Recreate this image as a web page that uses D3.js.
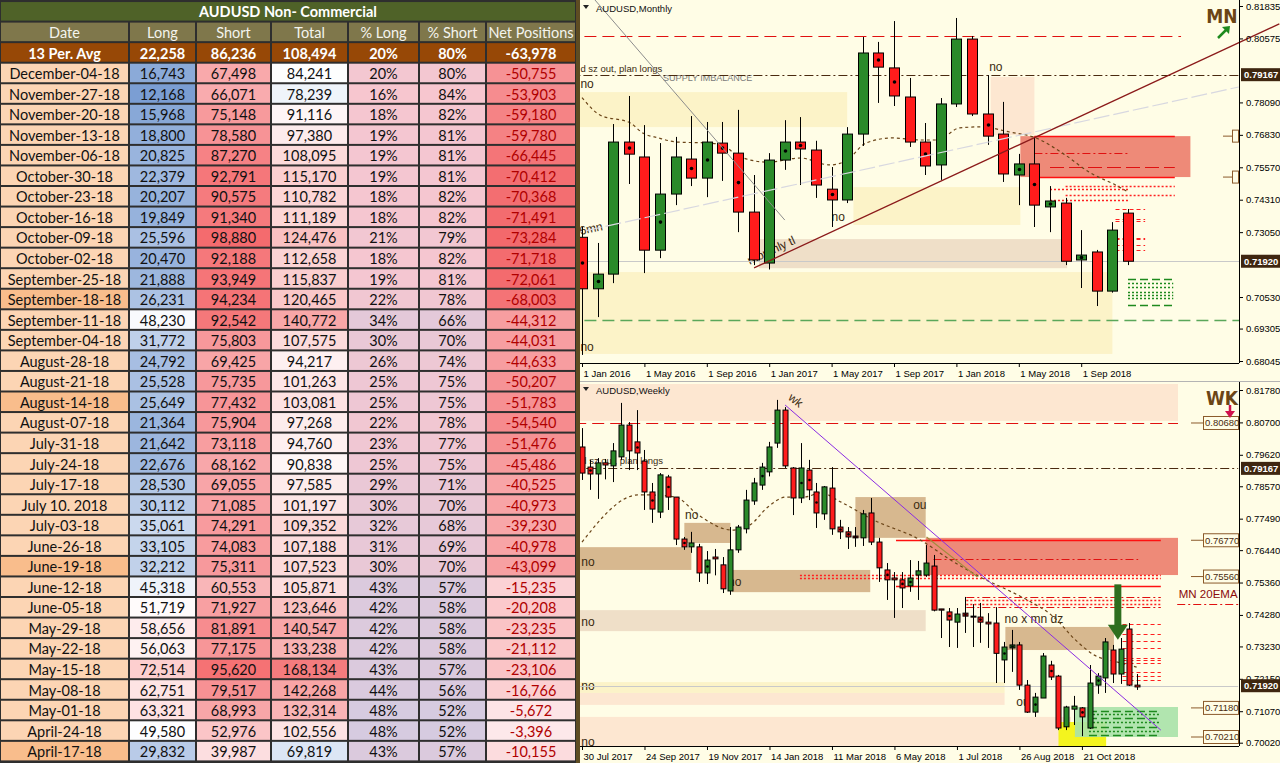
<!DOCTYPE html>
<html>
<head>
<meta charset="utf-8">
<title>AUDUSD Non-Commercial and charts</title>
<script src="https://cdn.jsdelivr.net/npm/d3@7"></script>
<style>
  body { margin: 0; background: #fff; }
  svg { display: block; }
</style>
</head>
<body>
<div id="chart-area"></div>
<script>
// ---------- COT table ----------
const tableTitle = 'AUDUSD Non- Commercial'
const headers = ['Date', 'Long', 'Short', 'Total', '% Long', '% Short', 'Net Positions']
const avgLabel = '13 Per. Avg'
const avgValues = [22258, 86236, 108494, 20, 80, -63978]

const dates = ['December-04-18', 'November-27-18', 'November-20-18', 'November-13-18', 'November-06-18',
  'October-30-18', 'October-23-18', 'October-16-18', 'October-09-18', 'October-02-18',
  'September-25-18', 'September-18-18', 'September-11-18', 'September-04-18', 'August-28-18',
  'August-21-18', 'August-14-18', 'August-07-18', 'July-31-18', 'July-24-18',
  'July-17-18', 'July 10. 2018', 'July-03-18', 'June-26-18', 'June-19-18',
  'June-12-18', 'June-05-18', 'May-29-18', 'May-22-18', 'May-15-18',
  'May-08-18', 'May-01-18', 'April-24-18', 'April-17-18']
const longs = [16743, 12168, 15968, 18800, 20825, 22379, 20207, 19849, 25596, 20470,
  21888, 26231, 48230, 31772, 24792, 25528, 25649, 21364, 21642, 22676,
  28530, 30112, 35061, 33105, 32212, 45318, 51719, 58656, 56063, 72514,
  62751, 63321, 49580, 29832]
const shorts = [67498, 66071, 75148, 78580, 87270, 92791, 90575, 91340, 98880, 92188,
  93949, 94234, 92542, 75803, 69425, 75735, 77432, 75904, 73118, 68162,
  69055, 71085, 74291, 74083, 75311, 60553, 71927, 81891, 77175, 95620,
  79517, 68993, 52976, 39987]
const totals = [84241, 78239, 91116, 97380, 108095, 115170, 110782, 111189, 124476, 112658,
  115837, 120465, 140772, 107575, 94217, 101263, 103081, 97268, 94760, 90838,
  97585, 101197, 109352, 107188, 107523, 105871, 123646, 140547, 133238, 168134,
  142268, 132314, 102556, 69819]
const pctLong = [20, 16, 18, 19, 19, 19, 18, 18, 21, 18, 19, 22, 34, 30, 26, 25, 25, 22, 23, 25,
  29, 30, 32, 31, 30, 43, 42, 42, 42, 43, 44, 48, 48, 43]
const pctShort = [80, 84, 82, 81, 81, 81, 82, 82, 79, 82, 81, 78, 66, 70, 74, 75, 75, 78, 77, 75,
  71, 70, 68, 69, 70, 57, 58, 58, 58, 57, 56, 52, 52, 57]
const nets = [-50755, -53903, -59180, -59780, -66445, -70412, -70368, -71491, -73284, -71718,
  -72061, -68003, -44312, -44031, -44633, -50207, -51783, -54540, -51476, -45486,
  -40525, -40973, -39230, -40978, -43099, -15235, -20208, -23235, -21112, -23106,
  -16766, -5672, -3396, -10155]
const highlightDates = ['September-18-18', 'August-14-18', 'June-19-18', 'April-17-18']

// ---------- monthly candles, Jan 2016 .. Dec 2018 ----------
const mOpen = [.7285, .7085, .7142, .7655, .7597, .7235, .7453, .7589, .7515, .7651, .7612, .7383,
  .7185, .7585, .7655, .7624, .7472, .7430, .7686, .8001, .7943, .7830, .7655, .7566,
  .7803, .8055, .7764, .7686, .7527, .7570, .7403, .7418, .7197, .7228, .7076, .7379]
const mHigh = [.7325, .7263, .7725, .7834, .7721, .7651, .7675, .7756, .7733, .7733, .7780, .7527,
  .7612, .7740, .7752, .7660, .7558, .7713, .8063, .8044, .8125, .7904, .7729, .7826,
  .8137, .8067, .7915, .7811, .7609, .7675, .7484, .7438, .7313, .7236, .7344, .7395]
const mLow = [.6828, .6975, .7107, .7492, .7146, .7204, .7410, .7484, .7441, .7504, .7305, .7177,
  .7160, .7547, .7488, .7438, .7325, .7418, .7640, .7807, .7795, .7636, .7527, .7508,
  .7791, .7756, .7644, .7500, .7410, .7325, .7305, .7177, .7088, .7018, .7070, .7177]
const mClose = [.7085, .7142, .7655, .7608, .7235, .7453, .7597, .7515, .7655, .7612, .7383, .7197,
  .7585, .7655, .7628, .7488, .7430, .7686, .8001, .7946, .7834, .7655, .7562, .7803,
  .8055, .7764, .7678, .7531, .7570, .7410, .7426, .7192, .7216, .7076, .7313, .7192]
const mDots = [0, 1, 3, 5, 7, 8, 9, 10, 13, 14, 16, 19, 20, 22, 26, 28, 29, 30, 32]
const mMa = [[0, .7828], [1.15, .7760], [3.1, .7729], [3.9, .7690], [4.9, .7671], [6.1, .7655],
  [8.2, .7651], [9, .7644], [9.9, .7605], [10.8, .7585], [11.9, .7577], [14, .7593],
  [15.9, .7566], [17, .7585], [18.2, .7651], [19.9, .7671], [21.7, .7663], [22.8, .7663],
  [24.2, .7710], [25.6, .7714], [27.4, .7694], [29.1, .7671], [30.8, .7612], [32.6, .7535],
  [34.2, .7488], [35, .7461]]
const mTickIdx = [0, 4, 8, 12, 16, 20, 24, 28, 32]
const mTickLabels = ['1 Jan 2016', '1 May 2016', '1 Sep 2016', '1 Jan 2017', '1 May 2017',
  '1 Sep 2017', '1 Jan 2018', '1 May 2018', '1 Sep 2018']
const mPriceTicks = [0.81835, 0.80575, 0.78090, 0.76830, 0.75570, 0.74310, 0.73050, 0.70530, 0.69305, 0.68045]
const mDarkBoxes = [0.79167, 0.71920]
const mMarkers = [0.7678, 0.7519]

// ---------- weekly candles, 30 Jul 2017 .. Dec 2018 ----------
const wOpen = [.7988, .7921, .7898, .7935, .7925, .7955, .8061, .8005, .7941, .7838,
  .7771, .7888, .7821, .7681, .7655, .7655, .7568, .7621, .7595, .7508,
  .7645, .7715, .7808, .7861, .7905, .8001, .8111, .7918, .7818, .7911,
  .7838, .7765, .7851, .7721, .7705, .7691, .7685, .7768, .7671, .7578,
  .7551, .7545, .7525, .7561, .7561, .7591, .7448, .7438, .7404, .7434,
  .7424, .7421, .7404, .7401, .7278, .7318, .7328, .7194, .7104, .7151,
  .7261, .7224, .7055, .7114, .7118, .7051, .7194, .7218, .7311, .7231,
  .7381, .7194]
const wHigh = [.8051, .7945, .7951, .7948, .8001, .8135, .8071, .8111, .7978, .7868,
  .7901, .7895, .7821, .7688, .7705, .7665, .7641, .7648, .7621, .7721,
  .7728, .7845, .7885, .7935, .8005, .8145, .8121, .7921, .8001, .7945,
  .7868, .7858, .7921, .7745, .7721, .7721, .7778, .7818, .7685, .7601,
  .7571, .7571, .7611, .7608, .7661, .7628, .7448, .7451, .7451, .7488,
  .7464, .7468, .7434, .7454, .7338, .7378, .7338, .7211, .7168, .7301,
  .7275, .7228, .7125, .7158, .7121, .7261, .7234, .7351, .7328, .7351,
  .7401, .7231]
const wLow = [.7878, .7845, .7815, .7880, .7871, .7945, .7911, .7911, .7778, .7735,
  .7751, .7778, .7661, .7645, .7635, .7538, .7531, .7560, .7501, .7495,
  .7635, .7700, .7795, .7845, .7890, .7985, .7918, .7761, .7801, .7811,
  .7718, .7745, .7695, .7681, .7648, .7655, .7658, .7661, .7538, .7478,
  .7418, .7451, .7505, .7478, .7555, .7440, .7351, .7321, .7318, .7368,
  .7321, .7335, .7318, .7201, .7201, .7238, .7178, .7101, .7088, .7151,
  .7211, .7044, .7044, .7061, .7024, .7048, .7165, .7168, .7201, .7198,
  .7191, .7178]
const wClose = [.7901, .7898, .7935, .7928, .7975, .8061, .7975, .7968, .7838, .7781,
  .7895, .7821, .7681, .7655, .7668, .7568, .7611, .7615, .7515, .7645,
  .7721, .7811, .7868, .7921, .7988, .8111, .7925, .7818, .7918, .7845,
  .7768, .7855, .7715, .7705, .7688, .7685, .7765, .7671, .7585, .7545,
  .7545, .7518, .7551, .7575, .7601, .7444, .7444, .7411, .7431, .7424,
  .7421, .7404, .7398, .7300, .7321, .7328, .7194, .7104, .7154, .7291,
  .7221, .7051, .7121, .7124, .7088, .7201, .7224, .7338, .7231, .7314,
  .7194, .7188]
const wDots = [1, 7, 9, 11, 13, 16, 23, 28, 29, 30, 33, 34, 35, 39, 41, 42, 47, 49, 51, 54, 55, 58, 60, 64, 66]
const wMa = [[0, .7671], [7.2, .7828], [8.9, .7828], [12, .7821], [14.9, .7761], [19.2, .7711],
  [21.5, .7728], [23.8, .7788], [26.1, .7821], [28.4, .7821], [30.6, .7835], [33.1, .7805],
  [37.3, .7745], [43.3, .7678], [47.2, .7611], [51, .7554], [54.5, .7511], [57, .7478],
  [60.4, .7421], [63.2, .7344], [65.6, .7294], [68.5, .7271], [71, .7254]]
const wTickIdx = [0, 8, 16, 24, 32, 40, 48, 56, 64]
const wTickLabels = ['30 Jul 2017', '24 Sep 2017', '19 Nov 2017', '14 Jan 2018', '11 Mar 2018',
  '6 May 2018', '1 Jul 2018', '26 Aug 2018', '21 Oct 2018']
const wPriceTicks = [0.81780, 0.80700, 0.79620, 0.78570, 0.77490, 0.76440, 0.75360, 0.74280,
  0.73230, 0.72150, 0.71070, 0.70020]
const wLightBoxes = [0.80680, 0.76770, 0.75560, 0.71180, 0.70210]
const wDarkBoxes = [0.79167, 0.71920]

// ---------- drawn objects on the charts (candle index, price) ----------
const zoneFill = { yellow: '#fcf3c8', peach: '#fde7d1', tan: '#efdfc8', dtan: '#d7b88f',
  red: '#ee8a78', green: '#a8e2a8', lemon: '#f4f41e' }
const mZones = [
  { k: 'yellow', i: [-1, 17], p: [.7849, .7713] },
  { k: 'peach', i: [26.2, 29], p: [.7908, .7682] },
  { k: 'yellow', i: [17.4, 28.1], p: [.7480, .7333] },
  { k: 'tan', i: [11.35, 31.1], p: [.7278, .7165] },
  { k: 'yellow', i: [-1, 34], p: [.7150, .6832] },
  { k: 'red', i: [28.1, 39], p: [.7678, .7519] }
]
const wZones = [
  { k: 'peach', i: [-1, 76.3], p: [.8198, .8075] },
  { k: 'dtan', i: [-1, 14], p: [.7654, .7578] },
  { k: 'dtan', i: [13.1, 19], p: [.7735, .7668] },
  { k: 'dtan', i: [19.2, 36.9], p: [.7578, .7504] },
  { k: 'dtan', i: [35, 44], p: [.7821, .7685] },
  { k: 'red', i: [44, 76.3], p: [.7685, .7561] },
  { k: 'tan', i: [-1, 44], p: [.7444, .7374] },
  { k: 'dtan', i: [54.2, 68.1], p: [.7388, .7311] },
  { k: 'yellow', i: [-1, 54.1], p: [.7204, .7168] },
  { k: 'peach', i: [-1, 54.1], p: [.7168, .7128] },
  { k: 'peach', i: [-1, 62.6], p: [.7088, .6990] },
  { k: 'lemon', i: [61, 67.1], p: [.7071, .6990] },
  { k: 'green', i: [63.1, 76.3], p: [.7121, .7021] }
]

const lineStyle = {
  redDash: ['#e01010', '12,6', 1.2], brownDashDot: ['#4a2a10', '9,3,2,3', 1.2],
  greenDash: ['#5aa75a', '12,6', 1.6], gray: ['#c9c9c9', null, 1], redSolid: ['#ff1010', null, 1.4],
  redDashDot: ['#e01010', '8,3,2,3', 1.2], redDot: ['#ff2020', '2,2', 1.3], redLong: ['#e01010', '14,5', 1.2],
  redShort: ['#ff2020', '4,3', 1.2], greenDot: ['#1e8a1e', '2,2', 1.3], greenLong: ['#1e8a1e', '8,4', 1.3]
}
const mLevels = [
  { s: 'redDash', p: .8068, i: [-1, 38.4] },
  { s: 'brownDashDot', p: .79167, i: [-1, 42.3] },
  { s: 'greenDash', p: .6964, i: [-1, 42.3] },
  { s: 'gray', p: .7192, i: [-1, 42.3] },
  { s: 'redSolid', p: .7678, i: [29, 38] },
  { s: 'redSolid', p: .7519, i: [29, 38] },
  { s: 'redDashDot', p: .7612, i: [29, 35] },
  { s: 'redLong', p: .7558, i: [30, 38] },
  { s: 'redDot', p: .7484, i: [31, 38] },
  { s: 'redDot', p: .7472, i: [30, 35] },
  { s: 'redDot', p: .7449, i: [31, 38] },
  { s: 'redDot', p: .7430, i: [30, 35] },
  ...[.7395, .7356, .7350, .7284, .7277, .7254, .7234].map(p => ({ s: 'redShort', p, i: [34.2, 36.1] })),
  { s: 'greenLong', p: .7123, i: [35, 37.9] },
  ...[.7107, .7092, .7072, .7061, .7049].map(p => ({ s: 'greenDot', p, i: [35, 37.9] })),
  { s: 'greenLong', p: .7022, i: [35, 37.9] }
]
const wLevels = [
  { s: 'redDash', p: .8068, i: [-1, 76.3] },
  { s: 'brownDashDot', p: .79167, i: [-1, 84] },
  { s: 'redSolid', p: .7677, i: [40.2, 74.1] },
  { s: 'redDashDot', p: .7614, i: [45, 71.2] },
  { s: 'redDot', p: .7561, i: [27.9, 74.1] },
  { s: 'redDot', p: .7551, i: [27.9, 74.1] },
  { s: 'redSolid', p: .7525, i: [40.2, 74.1] },
  { s: 'redDashDot', p: .7488, i: [49.2, 74.1] },
  { s: 'redDot', p: .7478, i: [49.2, 74.1] },
  { s: 'redDot', p: .7465, i: [49.2, 74.1] },
  { s: 'redDashDot', p: .7454, i: [49.2, 74.1] },
  { s: 'redDashDot', p: .7466, i: [76.2, 84.3] },
  { s: 'gray', p: .7192, i: [-1, 84] },
  ...[.7398, .7365, .7341, .7318, .7285, .7278, .7268, .7238, .7225, .7211].map(p => ({ s: 'redShort', p, i: [69.2, 74.1] })),
  ...[.7108, .7084, .7054, .7028].map(p => ({ s: 'greenLong', p, i: [64.9, 74.1] })),
  ...[.7098, .7071, .7041].map(p => ({ s: 'greenDot', p, i: [64.9, 74.1] }))
]
const mTrends = [
  { c: '#8c8c8c', w: 1, d: null, pts: [[0.83, .8207], [13, .7352]] },
  { c: '#d8d8e0', w: 1.2, d: '16,4', pts: [[-1, .7294], [42.1, .7869]] },
  { c: '#8b1a1a', w: 1.3, d: null, pts: [[11.03, .7166], [44.7, .8114]] }
]
const wTrends = [
  { c: '#8a2be2', w: 1, d: null, pts: [[26, .8128], [74.1, .7044]] },
  { c: '#a08c3c', w: 1.2, d: null, pts: [[44.1, .7688], [50.6, .7555]] }
]
const mNotes = [
  { t: 'no', i: -0.1, p: .7865, s: 12 }, { t: 'd sz out, plan longs', i: -0.1, p: .7927, s: 9.5 },
  { t: 'SUPPLY IMBALANCE', i: 5.2, p: .7892, s: 9, c: '#7a7a7a' }, { t: 'no', i: 26.1, p: .7931, s: 12 },
  { t: 'no', i: 16, p: .7348, s: 12 }, { t: '6mn', i: -0.1, p: .7294, s: 12, r: -12 },
  { t: 'no', i: -0.1, p: .6843, s: 12 }, { t: 'monthly tl', i: 10.75, p: .7178, s: 12, r: -25 }
]
const wNotes = [
  { t: 'd sz out, plan longs', i: -0.1, p: .7931, s: 9.5 }, { t: 'no', i: -0.1, p: .7591, s: 12 },
  { t: 'no', i: 13.2, p: .7748, s: 12 }, { t: 'no', i: 18.7, p: .7524, s: 12 },
  { t: 'ou', i: 42.4, p: .7781, s: 12 }, { t: 'no', i: -0.1, p: .7391, s: 12 },
  { t: 'no x mn dz', i: 54.1, p: .7401, s: 12 }, { t: 'no', i: -0.1, p: .7178, s: 12 },
  { t: 'ou', i: 55.6, p: .7124, s: 12 }, { t: 'no', i: -0.1, p: .6991, s: 12 },
  { t: 'wk', i: 26.3, p: .8148, s: 12, r: 38 },
  { t: 'MN 20EMA', i: 76.4, p: .7484, s: 11.5, c: '#8b0a0a' }
]

// ---------- layout ----------
const W = 1280, H = 763
const chartFont = '"Liberation Sans", Arial, sans-serif'
const tableFont = 'Lato, "Open Sans", sans-serif'
const bg = '#fffde6'
const upColor = '#2a8a2a', downColor = '#ff1c1c'
const axisX = 1239

const svg = d3.select('#chart-area').append('svg')
    .attr('width', W)
    .attr('height', H)
const defs = svg.append('defs')

// ================= table =================
const cols = [0, 129, 196, 271, 348, 419, 486, 576]
const rowH = 20.55
const firstTop = 62.7
const rowTop = k => firstTop + k * rowH

const longColor = d3.scaleLinear().domain([12168, 50000, 120000]).range(['#7b9ed3', '#ffffff', '#f8696b'])
const shortColor = d3.scaleLinear().domain([35000, 100000]).range(['#fde8ea', '#f4696c'])
const totalColor = d3.scaleLinear().domain([60000, 85000, 170000]).range(['#c5d6ee', '#ffffff', '#f4797b'])
const pctLongColor = d3.scaleLinear().domain([16, 48]).range(['#f7c6cf', '#d6cbe0'])
const pctShortColor = d3.scaleLinear().domain([52, 84]).range(['#d6cbe0', '#f7c6cf'])
const netColor = d3.scaleLinear().domain([-73284, -3396]).range(['#f3696c', '#fde8ea'])

const fmt = d3.format(',')
const fmtNum = v => (v < 0 ? '-' : '') + fmt(Math.abs(v))

const tbl = svg.append('g').attr('class', 'cot-table')
tbl.append('rect').attr('width', 577).attr('height', H).attr('fill', '#2e2e2e')

function cell(x0, x1, top, fill, text, color, weight) {
    tbl.append('rect')
        .attr('x', x0 + 1).attr('y', top + 1)
        .attr('width', x1 - x0 - 2).attr('height', rowH - 2)
        .attr('fill', fill)
    tbl.append('text')
        .attr('x', (x0 + x1) / 2).attr('y', top + rowH / 2 + 1)
        .attr('dy', '0.35em')
        .attr('text-anchor', 'middle')
        .attr('font-family', tableFont)
        .attr('font-size', 14.5)
        .attr('font-weight', weight || 'normal')
        .attr('fill', color)
        .text(text)
}

// title and header rows
cell(0, 576, rowTop(-3), '#4f6228', tableTitle, '#ffffff', 'bold')
headers.forEach((h, c) => cell(cols[c], cols[c + 1], rowTop(-2), '#7f774b', h, '#f4f4ee'))
cell(cols[0], cols[1], rowTop(-1), '#974806', avgLabel, '#ffffff', 'bold')
avgValues.forEach((v, c) => {
    const txt = (c === 3 || c === 4) ? v + '%' : fmtNum(v)
    cell(cols[c + 1], cols[c + 2], rowTop(-1), '#974806', txt, '#ffffff', 'bold')
})

// data rows
dates.forEach((d, k) => {
    const top = rowTop(k)
    cell(cols[0], cols[1], top, highlightDates.includes(d) ? '#f9bd8c' : '#fcd5b4', d, '#111')
    cell(cols[1], cols[2], top, longColor(longs[k]), fmtNum(longs[k]), '#111')
    cell(cols[2], cols[3], top, shortColor(shorts[k]), fmtNum(shorts[k]), '#111')
    cell(cols[3], cols[4], top, totalColor(totals[k]), fmtNum(totals[k]), '#111')
    cell(cols[4], cols[5], top, pctLongColor(pctLong[k]), pctLong[k] + '%', '#111')
    cell(cols[5], cols[6], top, pctShortColor(pctShort[k]), pctShort[k] + '%', '#111')
    cell(cols[6], cols[7], top, netColor(nets[k]), fmtNum(nets[k]), '#b00000')
})
svg.append('rect').attr('x', 576).attr('y', 0).attr('width', 4).attr('height', H).attr('fill', '#5e4c22')

// ================= charts =================
function makeChart(opt) {
    const g = svg.append('g')
    g.append('rect').attr('x', 580).attr('y', opt.top).attr('width', W - 580)
        .attr('height', opt.bottom - opt.top).attr('fill', bg)

    const x = d3.scaleLinear().domain(opt.xDomain).range(opt.xRange)
    const y = d3.scaleLinear().domain(opt.yDomain).range(opt.yRange)

    const clipId = 'clip-' + opt.name
    defs.append('clipPath').attr('id', clipId).append('rect')
        .attr('x', 580).attr('y', opt.top).attr('width', axisX - 580).attr('height', opt.plotBottom - opt.top)
    const wideId = 'wide-' + opt.name
    defs.append('clipPath').attr('id', wideId).append('rect')
        .attr('x', 580).attr('y', opt.top).attr('width', W - 580).attr('height', opt.plotBottom - opt.top)

    const plot = g.append('g').attr('clip-path', `url(#${clipId})`)

    // zones
    plot.selectAll('rect.zone').data(opt.zones).join('rect')
        .attr('class', 'zone')
        .attr('x', d => x(d.i[0])).attr('width', d => x(d.i[1]) - x(d.i[0]))
        .attr('y', d => y(d.p[0])).attr('height', d => y(d.p[1]) - y(d.p[0]))
        .attr('fill', d => zoneFill[d.k])
        .attr('opacity', d => d.k === 'green' ? 0.9 : 1)

    // notes under the candles
    plot.selectAll('text.note').data(opt.notes).join('text')
        .attr('class', 'note')
        .attr('transform', d => `translate(${x(d.i)},${y(d.p)}) rotate(${d.r || 0})`)
        .attr('font-family', chartFont)
        .attr('font-size', d => d.s)
        .attr('fill', d => d.c || '#3a2a10')
        .text(d => d.t)

    // horizontal levels
    plot.selectAll('line.level').data(opt.levels).join('line')
        .attr('class', 'level')
        .attr('x1', d => x(d.i[0])).attr('x2', d => x(d.i[1]))
        .attr('y1', d => Math.round(y(d.p)) + 0.5).attr('y2', d => Math.round(y(d.p)) + 0.5)
        .attr('stroke', d => lineStyle[d.s][0])
        .attr('stroke-dasharray', d => lineStyle[d.s][1])
        .attr('stroke-width', d => lineStyle[d.s][2])

    // trend lines
    const wide = g.append('g').attr('clip-path', `url(#${wideId})`)
    wide.selectAll('line.trend').data(opt.trends).join('line')
        .attr('class', 'trend')
        .attr('x1', d => x(d.pts[0][0])).attr('y1', d => y(d.pts[0][1]))
        .attr('x2', d => x(d.pts[1][0])).attr('y2', d => y(d.pts[1][1]))
        .attr('stroke', d => d.c).attr('stroke-width', d => d.w)
        .attr('stroke-dasharray', d => d.d)

    // moving average
    plot.append('path')
        .datum(opt.ma)
        .attr('d', d3.line().x(d => x(d[0])).y(d => y(d[1])).curve(d3.curveMonotoneX))
        .attr('fill', 'none')
        .attr('stroke', '#6b4518')
        .attr('stroke-width', 1.2)
        .attr('stroke-dasharray', '3,3')

    // candles
    const idx = d3.range(opt.open.length)
    const cx = i => Math.round(x(i)) + 0.5
    const cg = plot.append('g')
    cg.selectAll('line').data(idx).join('line')
        .attr('x1', cx).attr('x2', cx)
        .attr('y1', i => y(opt.high[i])).attr('y2', i => y(opt.low[i]))
        .attr('stroke', '#000').attr('stroke-width', 1)
    cg.selectAll('rect').data(idx).join('rect')
        .attr('x', i => cx(i) - opt.half)
        .attr('width', opt.half * 2)
        .attr('y', i => y(Math.max(opt.open[i], opt.close[i])))
        .attr('height', i => Math.max(1, Math.abs(y(opt.open[i]) - y(opt.close[i]))))
        .attr('fill', i => opt.close[i] >= opt.open[i] ? upColor : downColor)
        .attr('stroke', '#000').attr('stroke-width', 1)
    cg.selectAll('circle').data(opt.dots).join('circle')
        .attr('cx', cx)
        .attr('cy', i => y((opt.open[i] + opt.close[i]) / 2))
        .attr('r', opt.half > 3 ? 1.8 : 1.3)
        .attr('fill', '#000')

    // price axis
    const yAxis = g.append('g')
        .attr('transform', `translate(${axisX},0)`)
        .call(d3.axisRight(y).tickValues(opt.priceTicks).tickSize(4).tickPadding(3).tickFormat(d3.format('.5f')))
    yAxis.select('.domain').remove()
    yAxis.selectAll('line').attr('stroke', '#000')
    yAxis.selectAll('text').attr('font-family', chartFont).attr('font-size', 9.5).attr('fill', '#000')
    g.append('line').attr('x1', axisX + 0.5).attr('x2', axisX + 0.5)
        .attr('y1', opt.top).attr('y2', opt.plotBottom).attr('stroke', '#000')

    // time axis
    const xAxis = g.append('g')
        .attr('transform', `translate(0,${opt.plotBottom})`)
        .call(d3.axisBottom(x).tickValues(opt.tickIdx).tickSize(4).tickFormat((d, i) => opt.tickLabels[i]))
    xAxis.select('.domain').remove()
    xAxis.selectAll('line').attr('stroke', '#000')
    xAxis.selectAll('text').attr('text-anchor', 'start').attr('x', 1)
        .attr('font-family', chartFont).attr('font-size', 9.5).attr('fill', '#000')
    g.append('line').attr('x1', 580).attr('x2', axisX)
        .attr('y1', opt.plotBottom + 0.5).attr('y2', opt.plotBottom + 0.5).attr('stroke', '#000')

    // price boxes
    opt.darkBoxes.forEach(p => {
        g.append('rect').attr('x', axisX + 2).attr('y', y(p) - 6.5).attr('width', W - axisX - 2).attr('height', 13)
            .attr('fill', '#3f2610')
        g.append('text').attr('x', axisX + 5).attr('y', y(p)).attr('dy', '0.35em')
            .attr('font-family', chartFont).attr('font-size', 9.5).attr('font-weight', 'bold')
            .attr('fill', '#fff').text(d3.format('.5f')(p))
    })
    opt.lightBoxes.forEach(p => {
        g.append('line').attr('x1', 1191).attr('x2', 1203).attr('y1', y(p)).attr('y2', y(p)).attr('stroke', '#8b5a2b')
        g.append('rect').attr('x', 1203.5).attr('y', y(p) - 6.5).attr('width', 35).attr('height', 13)
            .attr('fill', bg).attr('stroke', '#8b5a2b')
        g.append('text').attr('x', 1205).attr('y', y(p)).attr('dy', '0.35em')
            .attr('font-family', chartFont).attr('font-size', 9.5).attr('fill', '#4a2c10')
            .text(d3.format('.5f')(p))
    })
    opt.markers.forEach(p => {
        g.append('line').attr('x1', 1223).attr('x2', 1232).attr('y1', y(p)).attr('y2', y(p)).attr('stroke', '#8b5a2b')
        g.append('rect').attr('x', 1232.5).attr('y', y(p) - 6).attr('width', 6).attr('height', 12)
            .attr('fill', bg).attr('stroke', '#8b5a2b')
    })

    // symbol caption
    g.append('path').attr('d', `M583,${opt.top + 5} L589,${opt.top + 5} L586,${opt.top + 9} Z`).attr('fill', '#222')
    g.append('text').attr('x', 596).attr('y', opt.top + 12)
        .attr('font-family', chartFont).attr('font-size', 9.5).attr('fill', '#111')
        .text(opt.caption)

    g.append('text').attr('x', 1222).attr('y', opt.top + 23)
        .attr('text-anchor', 'middle')
        .attr('font-family', '"DejaVu Sans Condensed", "DejaVu Sans", sans-serif')
        .attr('font-stretch', 'condensed')
        .attr('font-weight', 'bold').attr('font-size', 19)
        .attr('fill', '#6b4516')
        .text(opt.tf)
    return { g, x, y }
}

const monthly = makeChart({
    name: 'mn', top: 0, bottom: 381, plotBottom: 363,
    xDomain: [0, 35], xRange: [582, 1128],
    yDomain: [0.68045, 0.81835], yRange: [361, 6],
    zones: mZones, notes: mNotes, levels: mLevels, trends: mTrends, ma: mMa,
    open: mOpen, high: mHigh, low: mLow, close: mClose, dots: mDots, half: 5,
    priceTicks: mPriceTicks, tickIdx: mTickIdx, tickLabels: mTickLabels,
    darkBoxes: mDarkBoxes, lightBoxes: [], markers: mMarkers,
    caption: 'AUDUSD,Monthly', tf: 'MN'
})

svg.append('line').attr('x1', 580).attr('x2', W).attr('y1', 381.5).attr('y2', 381.5).attr('stroke', '#b4b4b4')

const weekly = makeChart({
    name: 'wk', top: 382, bottom: H, plotBottom: 746,
    xDomain: [0, 71], xRange: [582, 1136.6],
    yDomain: [0.7002, 0.8178], yRange: [742.7, 390],
    zones: wZones, notes: wNotes, levels: wLevels, trends: wTrends, ma: wMa,
    open: wOpen, high: wHigh, low: wLow, close: wClose, dots: wDots, half: 2.5,
    priceTicks: wPriceTicks, tickIdx: wTickIdx, tickLabels: wTickLabels,
    darkBoxes: wDarkBoxes, lightBoxes: wLightBoxes, markers: [],
    caption: 'AUDUSD,Weekly', tf: 'WK'
})

// direction arrows next to the timeframe badges
monthly.g.append('path').attr('d', 'M1218,38 L1227,29').attr('stroke', '#1e8a1e').attr('stroke-width', 2.5)
monthly.g.append('path').attr('d', 'M1222,27 L1230,26 L1229,34 Z').attr('fill', '#1e8a1e')
weekly.g.append('path').attr('d', 'M1230,405 L1230,413').attr('stroke', '#d0104c').attr('stroke-width', 2.5)
weekly.g.append('path').attr('d', 'M1225,411 L1235,411 L1230,418 Z').attr('fill', '#d0104c')

// big green arrow on the weekly chart
const ax = weekly.x(68.6)
weekly.g.append('path')
    .attr('d', `M${ax},${weekly.y(.7530)} L${ax},${weekly.y(.7385)}`)
    .attr('stroke', '#2e6e1e').attr('stroke-width', 7)
weekly.g.append('path')
    .attr('d', `M${ax - 10},${weekly.y(.7395)} L${ax + 10},${weekly.y(.7395)} L${ax},${weekly.y(.7345)} Z`)
    .attr('fill', '#2e6e1e')
</script>
</body>
</html>
